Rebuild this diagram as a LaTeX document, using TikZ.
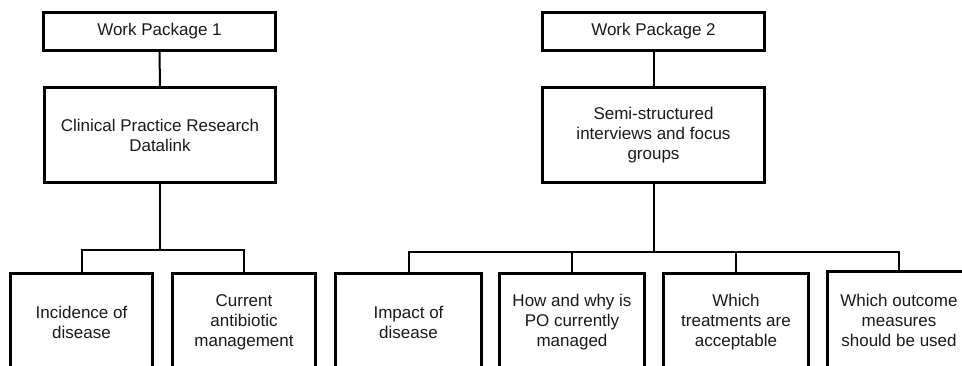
\documentclass[tikz,border=0pt]{standalone}
\usepackage{fontspec}
\setmainfont{Liberation Sans}
\begin{document}
\begin{tikzpicture}[x=1pt,y=-1pt,
  box/.style={draw=black, line width=3.2pt, inner sep=0pt, align=center,
    font=\fontsize{17}{20}\selectfont, text=black!90},
  conn/.style={draw=black, line width=2pt}]
\useasboundingbox (0,0) rectangle (962,366);
\clip (0,0) rectangle (962,366);
% top level
\node[box, minimum width=232pt, minimum height=38pt] (wp1) at (159.5,31.5) {Work Package 1};
\node[box, minimum width=231pt, minimum height=95pt] (cprd) at (160,135) {Clinical Practice Research\\Datalink};
\node[box, minimum width=222pt, minimum height=38pt] (wp2) at (653.5,31.5) {Work Package 2};
\node[box, minimum width=222pt, minimum height=95pt] (semi) at (653.5,135) {Semi-structured\\interviews and focus\\groups};
% bottom level
\node[box, minimum width=142pt, minimum height=97pt] (inc) at (81.5,322) {Incidence of\\disease};
\node[box, minimum width=143pt, minimum height=97pt] (cur) at (244,322) {Current\\antibiotic\\management};
\node[box, minimum width=146pt, minimum height=97pt] (imp) at (408.5,322) {Impact of\\disease};
\node[box, minimum width=145pt, minimum height=97pt] (how) at (572,322) {How and why is\\PO currently\\managed};
\node[box, minimum width=145pt, minimum height=97pt] (tre) at (736,322) {Which\\treatments are\\acceptable};
\node[box, minimum width=143pt, minimum height=97pt] (out) at (899,320) {Which outcome\\measures\\should be used};
% bar coordinates
\coordinate (b1) at (160,250);
\coordinate (b2) at (653.5,252);
% connectors
\draw[conn] (wp1.south) -- (cprd.north);
\draw[conn] (wp2.south) -- (semi.north);
\draw[conn] (cprd.south) -- (b1);
\draw[conn] (inc.north) -- (inc.north |- b1) -- (cur.north |- b1) -- (cur.north);
\draw[conn] (semi.south) -- (b2);
\draw[conn] (imp.north) -- (imp.north |- b2) -- (out.north |- b2) -- (out.north);
\draw[conn] (how.north) -- (how.north |- b2);
\draw[conn] (tre.north) -- (tre.north |- b2);
\end{tikzpicture}
\end{document}
